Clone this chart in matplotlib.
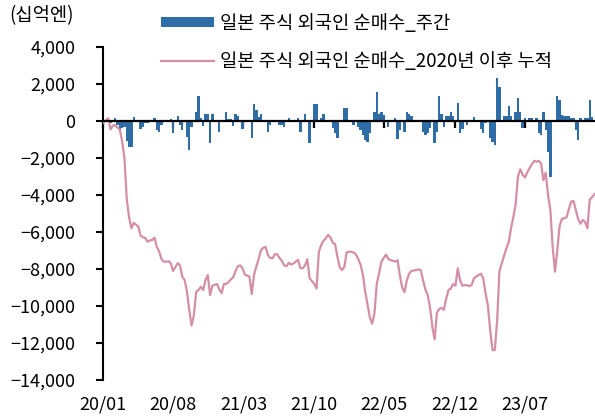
import numpy as np
import pandas as pd
import matplotlib
matplotlib.use('Agg')
from matplotlib import pyplot as plt
from matplotlib.ticker import FuncFormatter

plt.rcParams['font.family'] = ['Noto Sans CJK KR', 'DejaVu Sans']

# weekly net purchase of Japanese stocks by foreigners (billion yen)
weekly = [
    50, 80, -60, -120, 60, 140, -200, -580, -400, -300,
    -1100, -1420, -1400, 230, 50, 30, -450, -300, -80, -100,
    60, 40, 140, -490, -580, -200, 40, 60, 30, 90,
    -670, 60, 270, -220, -480, 60, -850, -1570, -300, 40,
    500, 1350, 150, -270, 380, 380, -1200, 380, 60, 30,
    -580, 60, 60, 470, 90, 130, -270, 380, 290, 60,
    -450, -30, 20, -40, -900, 920, 600, 230, 380, 60,
    60, -580, -220, 60, 60, 20, -220, -200, -340, 30,
    140, 20, 60, 60, 140, -580, 60, 380, 60, -1200,
    20, 900, 900, 30, 140, 380, 60, 60, 20, -390,
    -650, -940, 20, 60, 680, 680, 30, 60, -220, 20,
    -340, -480, -750, -1030, -1120, -650, 20, 470, 1550, 380,
    470, 320, 60, -340, 60, 20, 140, -990, -480, 20,
    -580, 470, 380, 290, 60, 20, 60, 60, -580, -750,
    -670, -390, -60, -1200, -580, 1350, 380, -300, 290, 290,
    470, 290, 60, 1000, -670, -450, 60, -220, 60, 20,
    230, 60, 60, -450, -670, -100, -60, -900, -1120, -1300,
    2300, 1850, 60, 270, 270, 810, 270, 20, 500, 1220,
    500, -390, 140, 20, 140, 140, 20, 140, -670, -750,
    470, -480, -1650, -3050, 60, 20, 1350, 1140, 320, 270,
    270, 270, 140, 140, -480, -1030, 140, 20, 140, 140,
    1140, 230, 60,
]

# cumulative since 2020 (billion yen)
cumulative = [
    -100, 50, 150, -450, -250, -220, -350, -450, -1100, -2000,
    -4200, -5200, -5800, -5500, -5600, -5700, -6200, -6280, -6320, -6520,
    -6450, -6430, -6300, -6800, -7050, -7450, -7600, -7600, -7570, -7680,
    -8100, -7900, -7680, -7800, -8420, -8590, -9200, -10200, -11050, -10500,
    -9230, -9130, -8960, -9130, -8600, -8320, -9400, -8900, -8850, -8810,
    -9100, -9300, -8800, -8800, -8700, -8550, -8450, -8100, -7850, -7800,
    -7950, -8300, -8350, -8420, -9350, -8300, -7850, -7450, -6970, -6850,
    -6800, -7250, -7400, -7420, -7200, -7200, -7400, -7550, -7800, -7850,
    -7660, -7750, -7700, -7600, -7500, -7950, -7960, -7800, -7470, -8500,
    -8650, -8800, -9050, -7060, -6700, -6470, -6340, -6150, -6300, -6580,
    -6650, -7330, -7900, -8050, -7880, -7100, -7060, -7060, -7100, -7200,
    -7460, -7750, -8300, -9200, -9900, -10600, -10950, -10400, -8800, -8230,
    -7600, -7400, -7220, -7450, -7520, -7550, -7600, -7520, -8350, -9000,
    -9250, -8600, -8250, -8100, -8080, -8050, -8020, -8050, -8600, -9100,
    -9400, -10050, -11100, -11800, -10350, -10150, -10100, -10200, -9600, -9130,
    -9050, -8800, -8900, -7960, -8600, -8900, -8860, -8880, -8920, -8860,
    -8500, -8400, -8320, -8250, -8500, -9300, -9950, -11300, -12380, -12380,
    -10800, -8100, -7700, -7300, -6880, -6550, -5800, -5200, -4500, -3000,
    -2610, -2900, -3050, -2780, -2550, -2350, -2150, -2200, -2150, -2300,
    -3200, -2790, -4000, -4800, -6800, -8140, -7000, -5650, -5280, -5260,
    -5200, -4750, -4350, -4320, -4800, -5300, -5550, -5350, -5450, -5800,
    -4250, -4120, -3950,
]

tick_months = ['2020-01', '2020-08', '2021-03', '2021-10', '2022-05', '2022-12', '2023-07']
tick_labels = ['20/01', '20/08', '21/03', '21/10', '22/05', '22/12', '23/07']

dates = pd.date_range('2020-01-03', periods=len(weekly), freq='W-FRI')

fig = plt.figure(figsize=(5.95, 4.2), dpi=100)
ax = fig.add_axes([0.173, 0.095, 0.827, 0.793])

bar_color = '#2f6da6'
line_color = '#d48fa6'

bars = ax.bar(dates, weekly, width=7, color=bar_color, linewidth=0,
              label='일본 주식 외국인 순매수_주간', zorder=2)
line, = ax.plot(dates, cumulative, color=line_color, lw=1.6,
                label='일본 주식 외국인 순매수_2020년 이후 누적', zorder=3)

ax.set_ylim(-14000, 4000)
ax.set_yticks(np.arange(-14000, 4001, 2000))
ax.yaxis.set_major_formatter(FuncFormatter(lambda v, p: f'{v:,.0f}'.replace('-', '\u2212')))
ax.set_xlim(pd.Timestamp('2020-01-01'), pd.Timestamp('2024-01-28'))

ticks = [pd.Timestamp(m + '-01') for m in tick_months]

for s in ['top', 'right']:
    ax.spines[s].set_visible(False)
ax.spines['left'].set_linewidth(1.5)
ax.spines['bottom'].set_position(('data', 0))
ax.spines['bottom'].set_linewidth(1.6)
ax.spines['bottom'].set_zorder(4)
ax.set_xticks(ticks)
ax.tick_params(axis='x', direction='out', length=5, width=1.6, labelbottom=False)
ax.tick_params(axis='y', direction='out', length=5, width=1.5, labelsize=13, pad=15)

sec = ax.secondary_xaxis('bottom')
sec.set_xticks(ticks)
sec.set_xticklabels(tick_labels)
sec.spines['bottom'].set_visible(False)
sec.tick_params(length=0, labelsize=13, pad=11)

fig.text(0.015, 0.962, '(십억엔)', fontsize=13.5, va='center', ha='left')

ax.legend(handles=[bars, line], loc='upper left', bbox_to_anchor=(0.265, 0.978),
          bbox_transform=fig.transFigure, frameon=False, fontsize=13.5,
          handlelength=2.8, handleheight=0.45, labelspacing=0.9,
          handletextpad=0.3, borderaxespad=0, borderpad=0.2)

plt.savefig('out.png', dpi=100)
